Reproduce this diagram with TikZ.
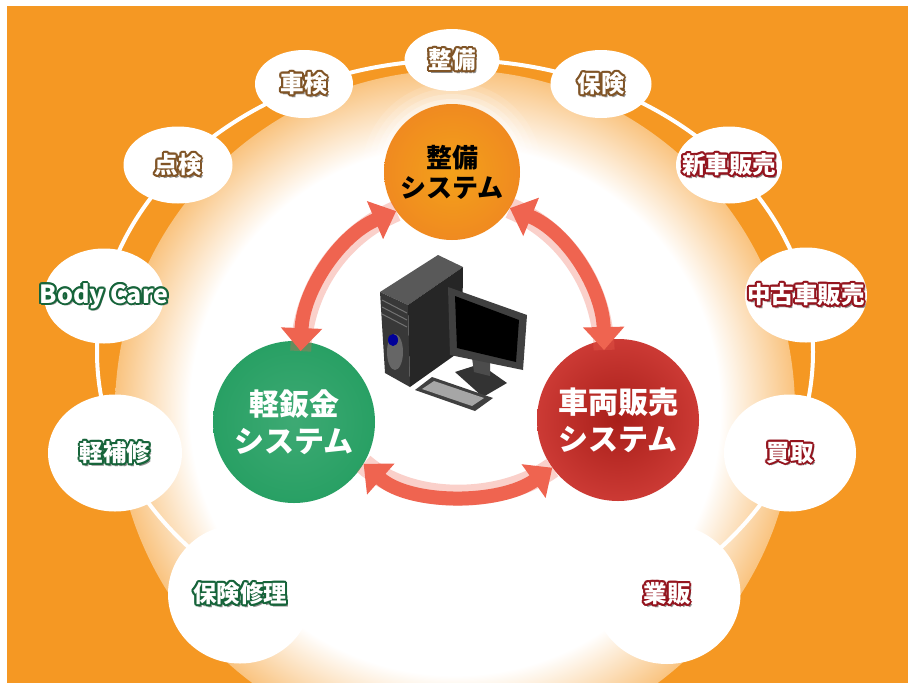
\documentclass[tikz,border=0pt]{standalone}
\usepackage{fontspec}
\newfontfamily\jpfont{Noto Sans CJK JP}
\usetikzlibrary{shapes.geometric, arrows.meta}

\definecolor{orbg}{RGB}{245,152,35}
\definecolor{arrowred}{RGB}{239,100,80}
\definecolor{seibiorange}{RGB}{240,138,32}
\definecolor{kingreen}{RGB}{40,160,100}
\definecolor{salesred}{RGB}{198,36,30}
\definecolor{rimbrown}{RGB}{128,84,38}
\definecolor{rimgreen}{RGB}{22,100,58}
\definecolor{rimred}{RGB}{148,20,30}

% white glow behind the three systems
\pgfdeclareradialshading{glow}{\pgfpoint{0bp}{0bp}}{color(0bp)=(white); color(19.5bp)=(white); color(29bp)=(orbg); color(50bp)=(orbg)}

% white letters with a coloured rim and a small drop shadow
\newbox\rimbox
\newcommand\rimtext[2]{%
  \setbox\rimbox=\hbox{#2}%
  \rlap{\kern2.2pt\raisebox{-2.4pt}{\color{black!45}\copy\rimbox}}%
  \foreach \a in {0,30,...,330}{%
    \pgfmathsetlengthmacro\rimx{2pt*cos(\a)}%
    \pgfmathsetlengthmacro\rimy{2pt*sin(\a)}%
    \rlap{\kern\rimx\raisebox{\rimy}{\color{#1}\copy\rimbox}}}%
  \copy\rimbox}

\tikzset{
  tag/.style={ellipse, fill=white, inner sep=0pt, inner xsep=-30pt, text=white,
    font=\jpfont\bfseries\fontsize{23.5}{26}\selectfont},
  system/.style={circle, inner sep=0pt, minimum size=162pt, align=center, text=white,
    font=\jpfont\bfseries\fontsize{30}{37}\selectfont},
  linkarrow/.style={draw=arrowred, line width=14pt,
    {Triangle[length=23pt,width=40pt]}-{Triangle[length=23pt,width=40pt]},
    preaction={draw=arrowred, opacity=.3, line width=21pt, arrows=-}},
}

\begin{document}
\begin{tikzpicture}[x=1pt,y=-1pt]
  \useasboundingbox (0,0) rectangle (908,683);
  \fill[white] (0,0) rectangle (908,683);
  \fill[orbg] (7,6) rectangle (908,683);
  \begin{scope}
    \clip (7,6) rectangle (908,683);
    \shade[shading=glow] (455,410) circle [radius=340pt];
  \end{scope}

  % ring of services
  \draw[white, line width=4pt] (455,352) ellipse [x radius=358pt, y radius=292pt];

  \node[tag, minimum width=95pt, minimum height=62pt] (seibitag) at (452,60) {\rimtext{rimbrown}{整備}};
  \node[tag, minimum width=98pt, minimum height=68pt] (shaken) at (304,84) {\rimtext{rimbrown}{車検}};
  \node[tag, minimum width=109pt, minimum height=77pt] (tenken) at (178,165) {\rimtext{rimbrown}{点検}};
  \node[tag, minimum width=120pt, minimum height=95pt, font=\jpfont\bfseries\fontsize{25}{26}\selectfont]
    (bodycare) at (104,296) {\rimtext{rimgreen}{Body Care}};
  \node[tag, minimum width=134pt, minimum height=117pt] (keiho) at (115,453) {\rimtext{rimgreen}{軽補修}};
  \node[tag, minimum width=144pt, minimum height=139pt] (hokenshuri) at (240,594) {\rimtext{rimgreen}{保険修理}};
  \node[tag, minimum width=101pt, minimum height=68pt] (hoken) at (601,84) {\rimtext{rimbrown}{保険}};
  \node[tag, minimum width=106pt, minimum height=77pt] (shinsha) at (729,165) {\rimtext{rimred}{新車販売}};
  \node[tag, minimum width=122pt, minimum height=95pt] (chuko) at (806,295) {\rimtext{rimred}{中古車販売}};
  \node[tag, minimum width=132pt, minimum height=117pt] (kaitori) at (790,453) {\rimtext{rimred}{買取}};
  \node[tag, minimum width=147pt, minimum height=140pt] (gyohan) at (667,594) {\rimtext{rimred}{業販}};

  % the three systems, the top one sits in a soft white halo
  \foreach \r/\o in {90/.12, 84/.15, 78/.2, 73/.3}
    \fill[white, opacity=\o] (452,172) circle [radius=\r pt];
  \node[system, minimum size=136pt, text=black, inner color=seibiorange!80!yellow, outer color=seibiorange,
    font=\jpfont\bfseries\fontsize{26}{30}\selectfont] (seibi) at (452,172) {整備\\システム};
  \node[system, inner color=kingreen!90!white, outer color=kingreen] (kinzoku) at (294,422) {軽鈑金\\システム};
  \node[system, inner color=salesred!85!black, outer color=salesred!90!white] (sharyo) at (618,420) {車両販売\\システム};

  \draw[linkarrow, shorten <=-10pt] (kinzoku.85) .. controls (303,290) and (340,235) .. (seibi.215);
  \draw[linkarrow, shorten >=-10pt] (seibi.-32) .. controls (568,232) and (603,290) .. (sharyo.100);
  \draw[linkarrow] (kinzoku.-31) .. controls (410,505) and (500,505) .. (sharyo.216);

  % computer
  \fill[black!65] (380,292) -- (438,255) -- (463,267) -- (408,305) -- cycle;
  \fill[black!78] (380,292) -- (408,305) -- (410,387) -- (385,373) -- cycle;
  \fill[black!85] (408,305) -- (463,267) -- (462,350) -- (410,387) -- cycle;
  \foreach \k in {0,1,2} \draw[black!55, line width=1pt] (382,{300+7*\k}) -- (407,{313+7*\k});
  \fill[black!60] (395,352) ellipse [x radius=8pt, y radius=18pt];
  \fill[blue!60!black] (393,340) ellipse [x radius=5pt, y radius=6pt];
  \fill[black!80] (455,372) -- (480,364) -- (507,383) -- (483,397) -- cycle;
  \fill[black!70] (472,358) -- (490,362) -- (490,376) -- (474,372) -- cycle;
  \fill[black!75] (448,287) -- (527,315) -- (523,370) -- (450,355) -- cycle;
  \fill[black] (455,296) -- (519,320) -- (516,362) -- (457,348) -- cycle;
  \fill[black!75] (415,390) -- (432,377) -- (493,398) -- (475,411) -- cycle;
  \fill[black!35] (422,389) -- (434,381) -- (484,398) -- (472,406) -- cycle;
\end{tikzpicture}
\end{document}
